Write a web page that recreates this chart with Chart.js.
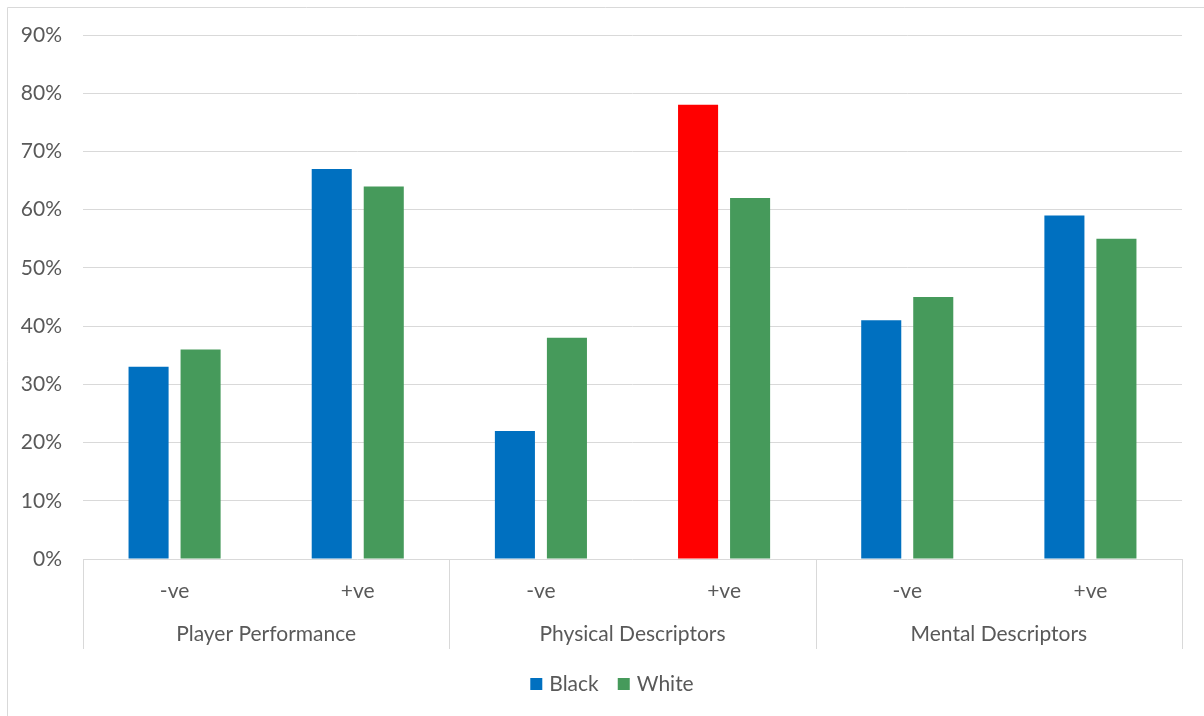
<!DOCTYPE html>
<html>
<head>
<meta charset="utf-8">
<script src="https://cdn.jsdelivr.net/npm/chart.js@4"></script>
<style>
  html, body { margin: 0; padding: 0; background: #fff; }
  canvas { display: block; }
</style>
</head>
<body>
<canvas id="grafico" width="1204" height="716"></canvas>
<script>
// Sub-categories, their parent groups and the two series (percent)
const subCategorias = ['-ve', '+ve', '-ve', '+ve', '-ve', '+ve'];
const grupos = ['Player Performance', 'Physical Descriptors', 'Mental Descriptors'];
const series = ['Black', 'White'];
const valoresBlack = [33, 67, 22, 78, 41, 59];
const valoresWhite = [36, 64, 38, 62, 45, 55];

const AZUL = '#0070C0';
const VERDE = '#469A5B';
const VERMELHO = '#FF0000';
const CINZA_TEXTO = '#595959';
const CINZA_LINHA = '#D9D9D9';
const FONTE = 'Lato, "Open Sans", sans-serif';
const TAM_FONTE = 21;

// the Physical Descriptors +ve bar for Black is highlighted in red
const coresBlack = valoresBlack.map((v, i) => i === 3 ? VERMELHO : AZUL);
const coresLegenda = [AZUL, VERDE];

// Draws the outer frame, group separators, group names and the legend
const eixoAgrupado = {
    id: 'eixoAgrupado',
    afterDraw(chart) {
        const ctx = chart.ctx;
        const x = chart.scales.x;
        const base = chart.chartArea.bottom;
        ctx.save();
        ctx.strokeStyle = CINZA_LINHA;
        ctx.lineWidth = 1;

        // frame
        ctx.beginPath();
        ctx.moveTo(7.5, 716);
        ctx.lineTo(7.5, 7.5);
        ctx.lineTo(1204, 7.5);
        ctx.stroke();

        // separators between groups
        const limites = [x.left];
        for (let g = 1; g < grupos.length; g++) {
            limites.push((x.getPixelForValue(g * 2 - 1) + x.getPixelForValue(g * 2)) / 2);
        }
        limites.push(x.right);
        ctx.beginPath();
        limites.forEach(px => {
            const p = Math.round(px) + 0.5;
            ctx.moveTo(p, base);
            ctx.lineTo(p, base + 90);
        });
        ctx.stroke();

        ctx.fillStyle = CINZA_TEXTO;
        ctx.font = TAM_FONTE + 'px ' + FONTE;
        ctx.textAlign = 'center';
        ctx.textBaseline = 'middle';
        grupos.forEach((nome, g) => {
            const centro = (x.getPixelForValue(g * 2) + x.getPixelForValue(g * 2 + 1)) / 2;
            ctx.fillText(nome, centro, base + 75);
        });

        // legend
        const caixa = 12, espaco = 7, entre = 19;
        const larguras = series.map(s => caixa + espaco + ctx.measureText(s).width);
        const total = larguras.reduce((a, b) => a + b, 0) + entre * (series.length - 1);
        let px = 612 - total / 2;
        const py = 684;
        ctx.textAlign = 'left';
        series.forEach((s, i) => {
            ctx.fillStyle = coresLegenda[i];
            ctx.fillRect(px, py - caixa / 2, caixa, caixa);
            ctx.fillStyle = CINZA_TEXTO;
            ctx.fillText(s, px + caixa + espaco, py);
            px += larguras[i] + entre;
        });
        ctx.restore();
    }
};

const contexto = document.getElementById('grafico').getContext('2d');
const grafico = new Chart(contexto, {
    type: 'bar',
    data: {
        labels: subCategorias,
        datasets: [{
            label: series[0],
            data: valoresBlack,
            backgroundColor: coresBlack,
            borderWidth: 0,
            categoryPercentage: 0.568,
            barPercentage: 0.77
        }, {
            label: series[1],
            data: valoresWhite,
            backgroundColor: VERDE,
            borderWidth: 0,
            categoryPercentage: 0.568,
            barPercentage: 0.77
        }]
    },
    options: {
        responsive: false,
        animation: false,
        layout: {
            padding: { top: 35, right: 22, bottom: 51, left: 0 }
        },
        scales: {
            x: {
                grid: { display: false, drawTicks: false },
                border: { display: false },
                ticks: {
                    color: CINZA_TEXTO,
                    font: { family: FONTE, size: TAM_FONTE },
                    padding: 20,
                    maxRotation: 0
                },
                afterFit(scale) { scale.height = 106; }
            },
            y: {
                min: 0,
                max: 90,
                grid: { color: CINZA_LINHA, lineWidth: 1, drawTicks: false },
                border: { display: false },
                ticks: {
                    stepSize: 10,
                    color: CINZA_TEXTO,
                    font: { family: FONTE, size: TAM_FONTE },
                    padding: 21,
                    callback: v => v + '%'
                },
                afterFit(scale) { scale.width = 83; }
            }
        },
        plugins: {
            legend: { display: false },
            tooltip: { enabled: false }
        }
    },
    plugins: [eixoAgrupado]
});
</script>
</body>
</html>
